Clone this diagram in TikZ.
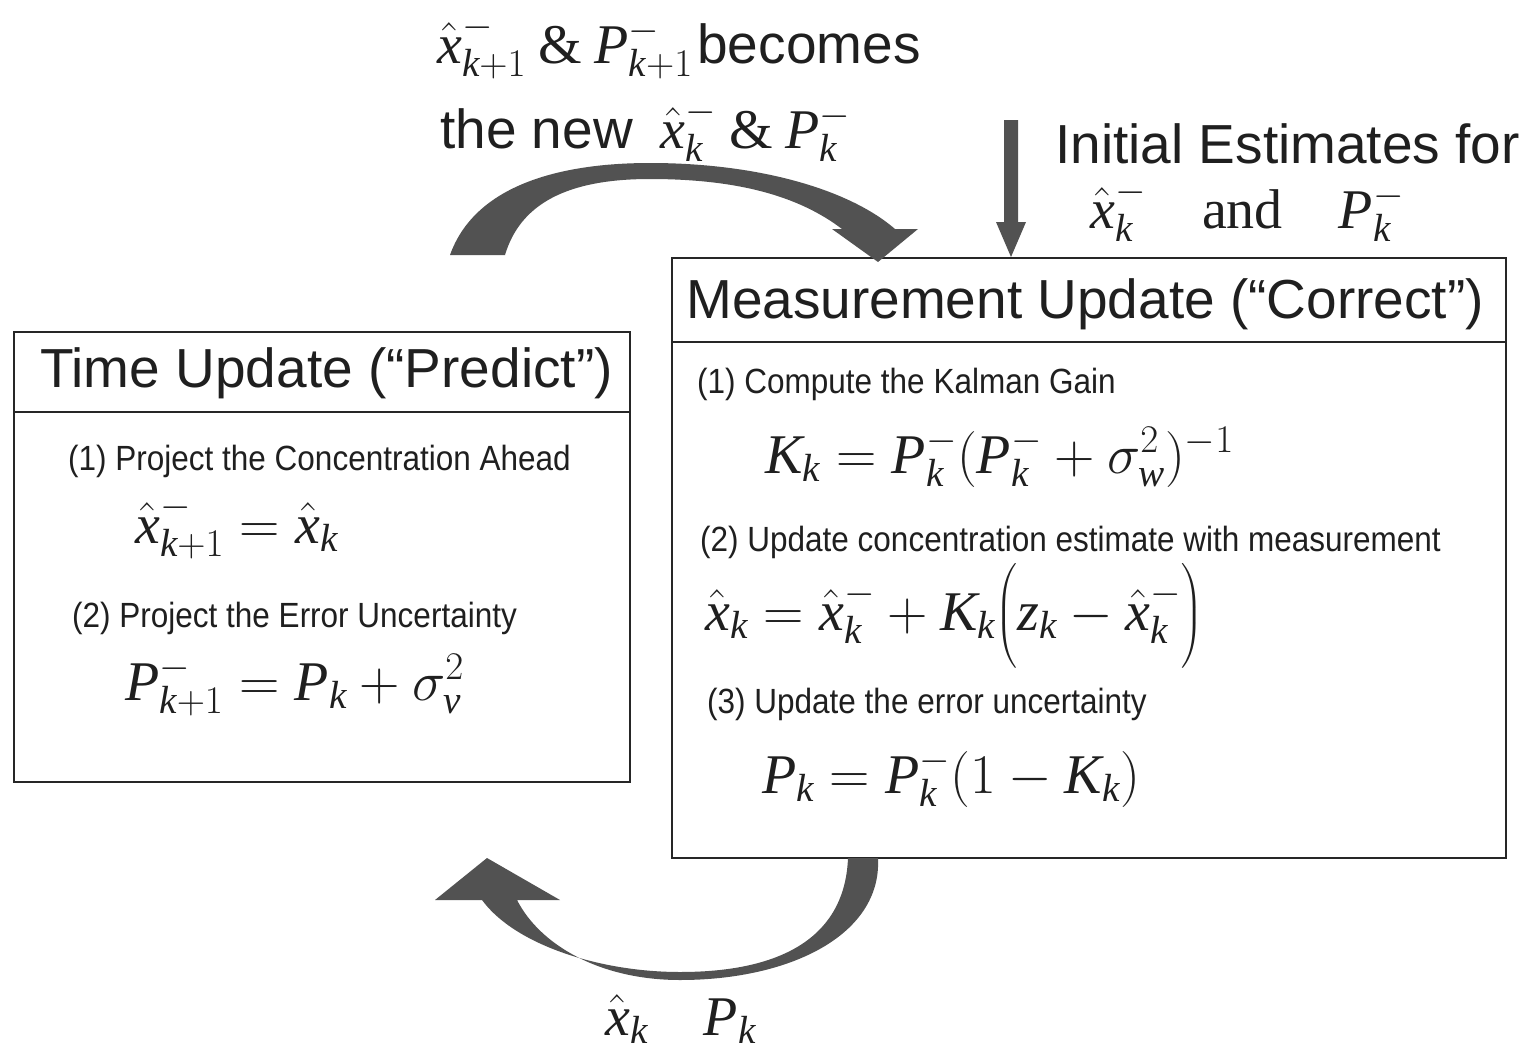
\RequirePackage{fix-cm}
\documentclass[tikz,border=0pt]{standalone}
\usepackage{amsmath}
\usepackage{fontspec}
\setmainfont{Liberation Serif}
\newfontfamily\hdr{Liberation Sans}
\newfontfamily\nar[FakeStretch=0.9]{Liberation Sans}
\newcommand\mi[1]{\text{\rmfamily\itshape #1}}
\newcommand\xh{\hat{\mi{x}}}
\begin{document}
\begin{tikzpicture}[x=1pt,y=-1pt,
  box/.style={draw=black!85, line width=1.6pt, inner sep=0pt},
  rule/.style={draw=black!85, line width=1.6pt},
  big/.style={font=\fontsize{55}{60}\selectfont\hdr, text=black!88, inner sep=0pt},
  small/.style={font=\fontsize{35}{40}\selectfont\nar, text=black!88, inner sep=0pt},
  eq/.style={font=\fontsize{56}{60}\selectfont, text=black!88, inner sep=0pt},
  blk/.style={fill=black!68, draw=none}]
\fill[white] (0,0) rectangle (1524,1060);
\useasboundingbox (0,0) rectangle (1524,1060);

% boxes
\node[box, minimum width=616pt, minimum height=450pt] (tu) at (322,557) {};
\node[box, minimum width=834pt, minimum height=600pt] (mu) at (1089,558) {};
\coordinate (tul) at (14,412); \coordinate (tur) at (630,412);
\coordinate (mul) at (672,342); \coordinate (mur) at (1506,342);
\draw[rule] (tul) -- (tur);
\draw[rule] (mul) -- (mur);

% titles
\node[big, anchor=base west] (tut) at (40,387) {Time Update (“Predict”)};
\node[big, anchor=base west] (mut) at (686,318) {Measurement Update (“Correct”)};

% time update contents
\node[small, anchor=base west] (t1) at (68,470) {(1) Project the Concentration Ahead};
\node[eq, anchor=base west] (e1) at (135,543) {$\xh_{\mi{k}+1}^{-}=\xh_{\mi{k}}$};
\node[small, anchor=base west] (t2) at (72,627) {(2) Project the Error Uncertainty};
\node[eq, anchor=base west] (e2) at (125,700) {$\mi{P}_{\mi{k}+1}^{-}=\mi{P}_{\mi{k}}+\sigma_{\mi{v}}^{2}$};

% measurement update contents
\node[small, anchor=base west] (m1) at (697,393) {(1) Compute the Kalman Gain};
\node[eq, anchor=base west] (f1) at (765,473) {$\mi{K}_{\mi{k}}=\mi{P}_{\mi{k}}^{-}(\mi{P}_{\mi{k}}^{-}+\sigma_{\mi{w}}^{2})^{-1}$};
\node[small, anchor=base west] (m2) at (700,551) {(2) Update concentration estimate with measurement};
\node[eq, anchor=base west] (f2) at (705,630) {$\xh_{\mi{k}}=\xh_{\mi{k}}^{-}+\mi{K}_{\mi{k}}\Bigl(\mi{z}_{\mi{k}}-\xh_{\mi{k}}^{-}\Bigr)$};
\node[small, anchor=base west] (m3) at (707,713) {(3) Update the error uncertainty};
\node[eq, anchor=base west] (f3) at (762,793) {$\mi{P}_{\mi{k}}=\mi{P}_{\mi{k}}^{-}(1-\mi{K}_{\mi{k}})$};

% top labels
\node[eq, anchor=base west] (l1) at (437,63) {$\xh_{\mi{k}+1}^{-}\mathbin{\&}\mi{P}_{\mi{k}+1}^{-}$\hspace{0.08em}{\fontsize{55}{60}\selectfont\hdr becomes}};
\node[eq, anchor=base west] (l2) at (440,148) {{\fontsize{55}{60}\selectfont\hdr the new}\enspace $\xh_{\mi{k}}^{-}\mathbin{\&}\mi{P}_{\mi{k}}^{-}$};
\node[big, anchor=base west] (ie) at (1055,163) {Initial Estimates for};
\node[eq, anchor=base west] (iv) at (1090,228) {$\xh_{\mi{k}}^{-}\quad\mathrm{and}\quad \mi{P}_{\mi{k}}^{-}$};

% bottom label
\node[eq, anchor=base west] (bl) at (605,1035) {$\xh_{\mi{k}}\quad \mi{P}_{\mi{k}}$};

% down arrow
\coordinate (dtop) at (1011,120);
\coordinate (dtip) at (1011,257);
\fill[blk] (1004,120) -- (1018,120) -- (1018,222) -- (1026,222) -- (dtip) -- (996,222) -- (1004,222) -- cycle;

% top curved arrow
\coordinate (ta) at (450,255);
\coordinate (tb) at (505,255);
\coordinate (tip1) at (878,262);
\fill[blk] (ta) .. controls (475,185) and (560,163) .. (650,163)
   .. controls (760,163) and (850,190) .. (895,229)
   -- (918,229) -- (tip1) -- (832,229) -- (842,229)
   .. controls (800,197) and (740,179) .. (650,179)
   .. controls (565,179) and (520,205) .. (tb) -- cycle;

% bottom curved arrow
\coordinate (ba) at (848,858);
\coordinate (bb) at (878,858);
\coordinate (tip2) at (487,858);
\fill[blk] (bb) .. controls (882,935) and (790,980) .. (680,980)
   .. controls (600,980) and (540,945) .. (517,900)
   -- (560,900) -- (tip2) -- (435,900) -- (482,900)
   .. controls (515,945) and (600,972) .. (680,972)
   .. controls (785,972) and (845,935) .. (ba) -- cycle;
\end{tikzpicture}
\end{document}
